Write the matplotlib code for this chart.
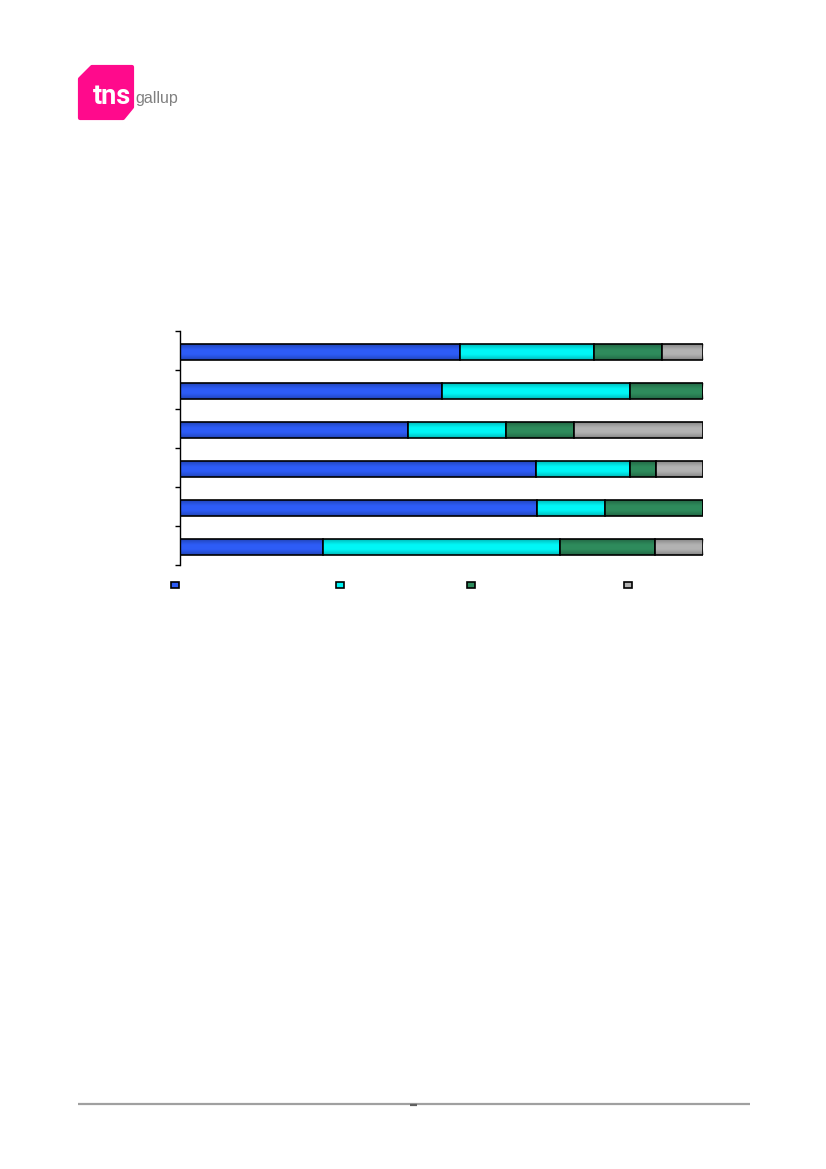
import matplotlib.pyplot as plt
from matplotlib.patches import Polygon, Patch
import numpy as np

# survey groups (top to bottom); the reference shows no labels
groups = ["1", "2", "3", "4", "5", "6"]
series_names = [" ", " ", " ", " "]

# shares in percent, one list per answer category
share_a = [53.6, 50.1, 43.6, 68.1, 68.3, 27.3]
share_b = [25.5, 35.9, 18.8, 18.0, 13.0, 45.3]
share_c = [13.0, 14.0, 13.0, 5.0, 18.7, 18.2]
share_d = [7.9, 0.0, 24.6, 8.9, 0.0, 9.2]

colors = ["#2d5cf6", "#00f6f6", "#2e8b5c", "#b2b2b2"]

W, H = 826, 1169
fig = plt.figure(figsize=(W / 100, H / 100), dpi=100)

# --- chart -----------------------------------------------------------
ax = fig.add_axes([180 / W, 1 - 565 / H, 523 / W, 234 / H])
y = np.arange(len(groups)) + 0.04
left = np.zeros(len(groups))

# dark shading towards the top and bottom edge of each bar (Excel-like)
t = np.linspace(0, 1, 32)
shade_alpha = 0.38 * np.clip(np.abs(t - 0.5) * 2 - 0.25, 0, 1) ** 1.3
shade = np.zeros((len(t), 2, 4))
shade[:, :, 3] = shade_alpha[:, None]

for vals, color in zip([share_a, share_b, share_c, share_d], colors):
    vals = np.asarray(vals, dtype=float)
    bars = ax.barh(y, vals, left=left, height=0.41, color=color,
                   edgecolor="black", linewidth=1.2, zorder=2)
    for p in bars.patches:
        if p.get_width() <= 0:
            continue
        x0, y0 = p.get_x(), p.get_y()
        im = ax.imshow(shade, extent=(x0, x0 + p.get_width(), y0 + p.get_height(), y0),
                       aspect="auto", interpolation="bilinear", zorder=2.5)
        im.set_clip_path(p)
    left += vals

ax.set_xlim(0, 100)
ax.set_ylim(len(groups) - 0.5, -0.5)
ax.set_yticks(np.arange(len(groups) + 1) - 0.5)
ax.set_yticklabels([])
ax.tick_params(axis="y", direction="out", length=3.5, width=1, color="black")
ax.set_xticks([])
for side in ["top", "right", "bottom"]:
    ax.spines[side].set_visible(False)
ax.spines["left"].set_linewidth(1)

# legend entries are spread unevenly in the reference, so one legend per entry
legend_x = [174, 339, 470, 627]
for color, name, lx in zip(colors, series_names, legend_x):
    h = Patch(facecolor=color, edgecolor="black", linewidth=1.2)
    fig.legend([h], [name], loc="center left",
               bbox_to_anchor=((lx - 3) / W, 1 - 585 / H),
               frameon=False, fontsize=5, handlelength=1.1,
               handleheight=1.1, borderpad=0, borderaxespad=0,
               handletextpad=0.2)

# --- page decoration: logo and footer -----------------------------------
page = fig.add_axes([0, 0, 1, 1], zorder=-1)
page.set_xlim(0, W)
page.set_ylim(H, 0)
page.axis("off")

logo = Polygon([(92, 67), (132, 67), (132, 107), (123, 118), (80, 118), (80, 79)],
               closed=True, facecolor="#ff0a8c", edgecolor="#ff0a8c",
               linewidth=3, joinstyle="round")
page.add_patch(logo)
page.text(93, 104, "tns", color="white", fontsize=19.5, fontweight="bold",
          family="Roboto", va="baseline", ha="left")
page.text(135.5, 103, "gallup", color="#808080", fontsize=11.5,
          family="Liberation Sans", va="baseline", ha="left")

page.plot([78, 750], [1104, 1104], color="#a0a0a0", linewidth=1.6,
          solid_capstyle="butt")
page.plot([410, 417], [1104.5, 1104.5], color="#606060", linewidth=1.6,
          solid_capstyle="butt")

fig.savefig("out.png", dpi=100)
